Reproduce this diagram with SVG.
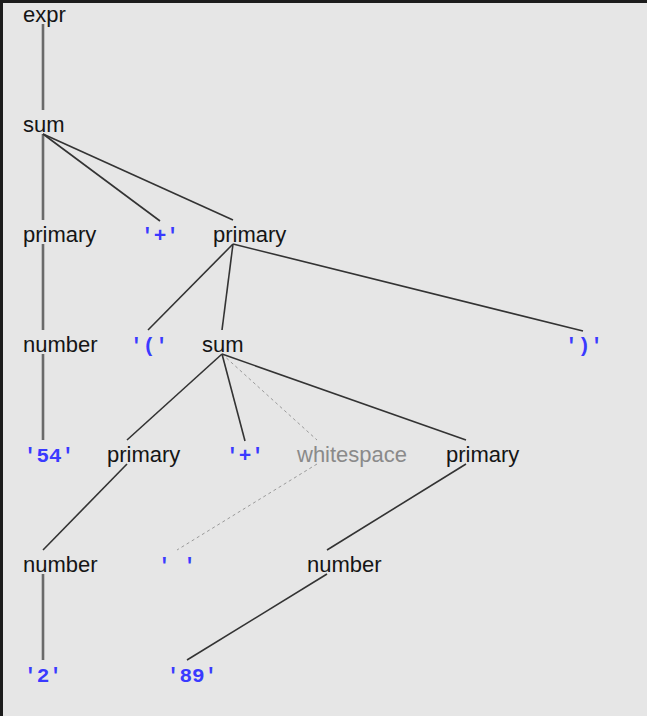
<svg xmlns="http://www.w3.org/2000/svg" width="647" height="716" viewBox="0 0 647 716">
<style>
.w{font-family:"Liberation Sans",Arial,sans-serif;font-size:22px;fill:#151515}
.g{fill:#8a8a8a}
.t{font-family:"Liberation Mono","DejaVu Sans Mono",monospace;font-size:21px;font-weight:bold;fill:#3a3aff;text-anchor:middle}
.e line{stroke:#333;stroke-width:1.6;fill:none}
.e line.v{stroke:#6a6a6a;stroke-width:2.6}
.e line.d{stroke:#9a9a9a;stroke-width:1;stroke-dasharray:3 3}
</style>
<rect x="0" y="0" width="647" height="716" fill="#1c1c1c"/>
<rect x="3" y="3" width="644" height="713" fill="#e6e6e6"/>
<g id="connectors" class="e">
<line class="v" x1="43" y1="24" x2="43" y2="110"/>
<line class="v" x1="43" y1="134" x2="43" y2="220"/>
<line x1="43" y1="134" x2="160" y2="221"/>
<line x1="43" y1="134" x2="233" y2="220"/>
<line class="v" x1="43" y1="244" x2="43" y2="330"/>
<line x1="233" y1="244" x2="148" y2="330"/>
<line x1="233" y1="244" x2="222" y2="330"/>
<line x1="233" y1="244" x2="583" y2="331"/>
<line class="v" x1="43" y1="354" x2="43" y2="440"/>
<line x1="222" y1="354" x2="127" y2="440"/>
<line x1="222" y1="354" x2="245" y2="441"/>
<line class="d" x1="222" y1="354" x2="317" y2="440"/>
<line x1="222" y1="354" x2="466" y2="440"/>
<line x1="127" y1="464" x2="43" y2="550"/>
<line class="d" x1="317" y1="464" x2="177" y2="550"/>
<line x1="466" y1="464" x2="327" y2="550"/>
<line class="v" x1="43" y1="574" x2="43" y2="660"/>
<line x1="327" y1="574" x2="187" y2="660"/>
</g>
<g id="n-expr"><text class="w" x="23" y="22">expr</text></g>
<g id="n-sum"><text class="w" x="23" y="132">sum</text></g>
<g id="n-primary"><text class="w" x="23" y="242">primary</text></g>
<g id="n-plus"><text class="t" x="160" y="242">'+'</text></g>
<g id="n-primary2"><text class="w" x="213" y="242">primary</text></g>
<g id="n-number"><text class="w" x="23" y="352">number</text></g>
<g id="n-lparen"><text class="t" x="149" y="352">'('</text></g>
<g id="n-sum2"><text class="w" x="202" y="352">sum</text></g>
<g id="n-rparen"><text class="t" x="584" y="352">')'</text></g>
<g id="n-54"><text class="t" x="49" y="462">'54'</text></g>
<g id="n-primary3"><text class="w" x="107" y="462">primary</text></g>
<g id="n-plus2"><text class="t" x="245" y="462">'+'</text></g>
<g id="n-whitespace"><text class="w g" x="297" y="462">whitespace</text></g>
<g id="n-primary4"><text class="w" x="446" y="462">primary</text></g>
<g id="n-number2"><text class="w" x="23" y="572">number</text></g>
<g id="n-space"><text class="t" x="177" y="572" xml:space="preserve">' '</text></g>
<g id="n-number3"><text class="w" x="307" y="572">number</text></g>
<g id="n-2"><text class="t" x="43" y="682">'2'</text></g>
<g id="n-89"><text class="t" x="192" y="682">'89'</text></g>
</svg>
